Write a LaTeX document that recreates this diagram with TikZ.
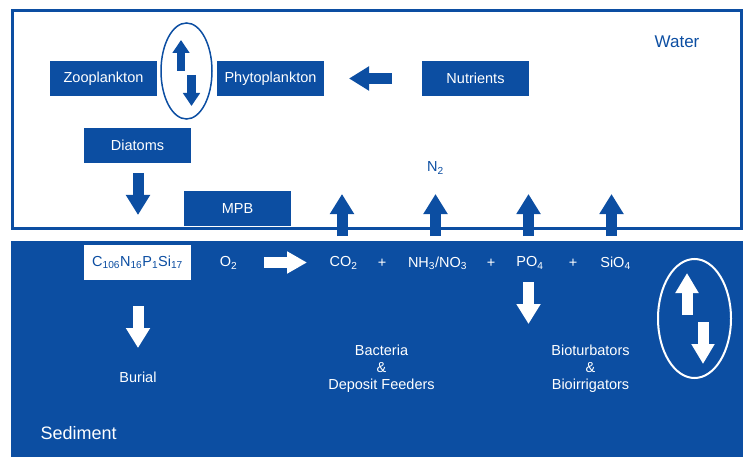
\documentclass[tikz,border=0pt]{standalone}
\usepackage{fontspec}
\setmainfont{Liberation Sans}
\usetikzlibrary{arrows.meta}
\definecolor{seablue}{HTML}{0C4EA2}
\tikzset{
  box/.style={fill=seablue, text=white, minimum width=107pt, minimum height=35pt,
    inner sep=0pt, font=\fontsize{14.5}{17}\selectfont},
  chem/.style={inner sep=0pt, font=\fontsize{14.5}{17}\selectfont},
  bigarrow/.style={line width=11pt, -{Triangle[length=20pt,width=23pt]}},
  smallarrow/.style={line width=8.5pt, -{Triangle[length=13pt,width=16.5pt]}},
}
\begin{document}
\begin{tikzpicture}[x=1pt,y=-1pt]
            \useasboundingbox (0,0) rectangle (749,457);
            % water and sediment
            \draw[seablue, line width=3pt] (12,11) rectangle (741,228);
            \fill[seablue] (11,241) rectangle (743,457);
            \node[text=seablue, font=\fontsize{17}{20}\selectfont] (water) at (677,42) {Water};
            \node[text=white, anchor=west, font=\fontsize{18}{20}\selectfont] (sediment) at (37,433) {Sediment};
            % boxes in the water
            \node[box] (zoo) at (103.5,78.5) {Zooplankton};
            \node[box] (phyto) at (270.5,78.5) {Phytoplankton};
            \node[box] (nutr) at (475.5,78.5) {Nutrients};
            \node[box] (diat) at (137.5,145.5) {Diatoms};
            \node[box] (mpb) at (237.5,208.5) {MPB};
            \node[chem, text=seablue] (ntwo) at (435.5,168) {N\textsubscript{2}};
            % grazing loop
            \draw[seablue, line width=1.5pt] (186.5,71) ellipse [x radius=25.5pt, y radius=48pt];
            \draw[smallarrow, seablue] (181,71) -- (181,40);
            \draw[smallarrow, seablue] (191.5,75) -- (191.5,106);
            \draw[bigarrow, seablue] (392,78.5) -- (349,78.5);
            \draw[bigarrow, seablue] (138,173) -- (138,215);
            % fluxes out of the sediment
            \draw[bigarrow, seablue] (342,236) -- (342,194);
            \draw[bigarrow, seablue] (435.5,236) -- (435.5,194);
            \draw[bigarrow, seablue] (528.5,236) -- (528.5,194);
            \draw[bigarrow, seablue] (611.5,236) -- (611.5,194);
            % sediment row
            \node[box, fill=white, text=seablue] (orgm) at (137.5,262.5) {C\textsubscript{106}N\textsubscript{16}P\textsubscript{1}Si\textsubscript{17}};
            \node[chem, text=white] (otwo) at (228.5,263) {O\textsubscript{2}};
            \draw[bigarrow, white, -{Triangle[length=20pt,width=21pt]}] (264,262.5) -- (307,262.5);
            \node[chem, text=white] (cotwo) at (343.5,263) {CO\textsubscript{2}};
            \node[chem, text=white] (plusa) at (382,263) {+};
            \node[chem, text=white] (nhno) at (437.5,263) {NH\textsubscript{3}/NO\textsubscript{3}};
            \node[chem, text=white] (plusb) at (491,263) {+};
            \node[chem, text=white] (pofour) at (530,263) {PO\textsubscript{4}};
            \node[chem, text=white] (plusc) at (573,263) {+};
            \node[chem, text=white] (siofour) at (615.5,263) {SiO\textsubscript{4}};
            % down into the sediment
            \draw[bigarrow, white] (138,306) -- (138,348);
            \draw[bigarrow, white] (528.5,282) -- (528.5,324);
            \node[chem, text=white] (burial) at (138,377) {Burial};
            \node[chem, text=white, align=center] (bact) at (381.5,369) {Bacteria\\\&\\Deposit Feeders};
            \node[chem, text=white, align=center] (bioturb) at (590.5,369) {Bioturbators\\\&\\Bioirrigators};
            % mixing loop
            \draw[white, line width=2pt] (694.5,318.5) ellipse [x radius=36.5pt, y radius=59.5pt];
            \draw[bigarrow, white, -{Triangle[length=20pt,width=22pt]}] (687,315) -- (687,273);
            \draw[bigarrow, white, -{Triangle[length=20pt,width=22pt]}] (703,322) -- (703,364);
          \end{tikzpicture}
\end{document}
